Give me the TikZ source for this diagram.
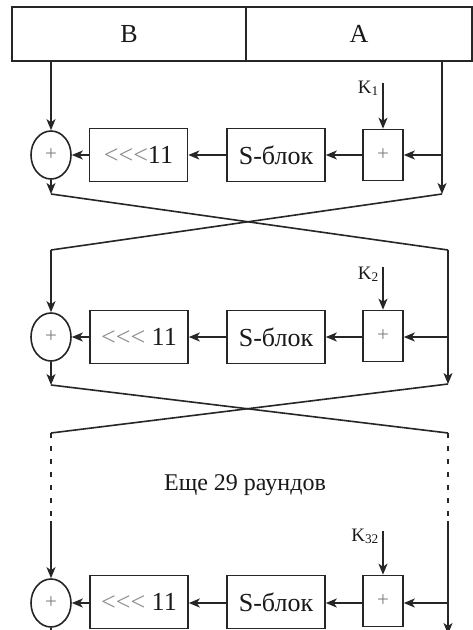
\documentclass[tikz,border=0pt]{standalone}
\usepackage{fontspec}
\setmainfont{Liberation Serif}
\usetikzlibrary{arrows.meta,shapes.geometric}
\newcommand{\rotl}{<\kern0pt<\kern0pt<}
\begin{document}
\begin{tikzpicture}[x=1pt,y=-1pt,
  ln/.style={line width=1.6pt, draw=black!85},
  arr/.style={ln,-{Stealth[length=11pt,width=9pt,inset=3pt]}},
  dsh/.style={ln, dash pattern=on 5pt off 8pt},
  blk/.style={ln, draw, inner sep=0pt, minimum height=53pt, text=black!90, font=\fontsize{26}{30}\selectfont},
  wide/.style={blk, minimum width=98pt},
  topbox/.style={blk, minimum height=54pt},
  addbox/.style={ln, draw, inner sep=0pt, minimum width=40pt, minimum height=51pt, text=black!50, font=\fontsize{21}{21}\selectfont},
  xorc/.style={ln, draw, ellipse, inner sep=0pt, minimum width=40pt, minimum height=48pt, text=black!50, font=\fontsize{21}{21}\selectfont},
  klab/.style={inner sep=0pt, text=black!90, font=\fontsize{19}{19}\selectfont},
  note/.style={inner sep=0pt, text=black!90, font=\fontsize{24}{24}\selectfont}]
\useasboundingbox (0,0) rectangle (473,630);
\clip (0,0) rectangle (473,630);
\fill[white] (0,0) rectangle (473,630);

% top register
\node[topbox, minimum width=234pt] (B) at (129,34) {B};
\node[topbox, minimum width=226pt] (A) at (359,34) {A};

% round 1
\node[xorc] (x1) at (51,155) {+};
\node[wide] (r1) at (138.5,155) {\textcolor{black!45}{\rotl}11};
\node[wide] (s1) at (276,155) {S-блок};
\node[addbox] (a1) at (383,155) {+};
\coordinate (k1) at (383,83);
\node[klab, anchor=base east] (kl1) at (379,93) {K\textsubscript{1}};
\coordinate (R1) at (442,155);
\coordinate (c1R) at (442,194);
\coordinate (c1L) at (51,194);

\draw[arr] (B.south -| x1) -- (x1.north);
\draw[ln] (A.south -| R1) -- (R1);
\draw[arr] (R1) -- (c1R);
\draw[arr] (R1) -- (a1.east);
\draw[arr] (k1) -- (a1.north);
\draw[arr] (a1.west) -- (s1.east);
\draw[arr] (s1.west) -- (r1.east);
\draw[arr] (r1.west) -- (x1.east);
\draw[arr] (x1.south) -- (c1L);

% crossing 1
\coordinate (c2L) at (51,250);
\coordinate (c2R) at (448,250);
\draw[ln] (c1L) -- (c2R);
\draw[ln] (c1R) -- (c2L);

% round 2
\node[xorc] (x2) at (51,337) {+};
\node[wide] (r2) at (139,337) {\textcolor{black!45}{\rotl} 11};
\node[wide] (s2) at (276,337) {S-блок};
\node[addbox] (a2) at (383,336) {+};
\coordinate (k2) at (383,267);
\node[klab, anchor=base east] (kl2) at (379,279) {K\textsubscript{2}};
\coordinate (R2) at (448,337);
\coordinate (c2Rb) at (448,384);
\coordinate (c2Lb) at (51,385);

\draw[arr] (c2L) -- (x2.north);
\draw[ln] (c2R) -- (R2);
\draw[arr] (R2) -- (c2Rb);
\draw[arr] (R2) -- (a2.east |- R2);
\draw[arr] (k2) -- (a2.north);
\draw[arr] (a2.west |- R2) -- (s2.east);
\draw[arr] (s2.west) -- (r2.east);
\draw[arr] (r2.west) -- (x2.east);
\draw[arr] (x2.south) -- (c2Lb);

% crossing 2
\coordinate (c3L) at (51,433);
\coordinate (c3R) at (448,433);
\draw[ln] (c2Lb) -- (c3R);
\draw[ln] (c2Rb) -- (c3L);

% skipped rounds
\coordinate (d3L) at (51,521);
\coordinate (d3R) at (448,521);
\draw[dsh] (c3L) -- (d3L);
\draw[dsh] (c3R) -- (d3R);
\node[note] (more) at (245,485) {Еще 29 раундов};

% round 32
\node[xorc] (x3) at (51,603) {+};
\node[wide] (r3) at (139,602) {\textcolor{black!45}{\rotl} 11};
\node[wide] (s3) at (276,602) {S-блок};
\node[addbox] (a3) at (383,601) {+};
\coordinate (k3) at (383,531);
\node[klab, anchor=base east] (kl3) at (379,541) {K\textsubscript{32}};
\coordinate (R3) at (448,603);
\coordinate (c3Rb) at (448,634);
\coordinate (c3Lb) at (51,650);

\draw[arr] (d3L) -- (x3.north);
\draw[ln] (d3R) -- (R3);
\draw[arr] (R3) -- (c3Rb);
\draw[arr] (R3) -- (a3.east |- R3);
\draw[arr] (k3) -- (a3.north);
\draw[arr] (a3.west |- R3) -- (s3.east |- R3);
\draw[arr] (s3.west |- R3) -- (r3.east |- R3);
\draw[arr] (r3.west |- R3) -- (x3.east);
\draw[ln] (x3.south) -- (c3Lb);
\end{tikzpicture}
\end{document}
